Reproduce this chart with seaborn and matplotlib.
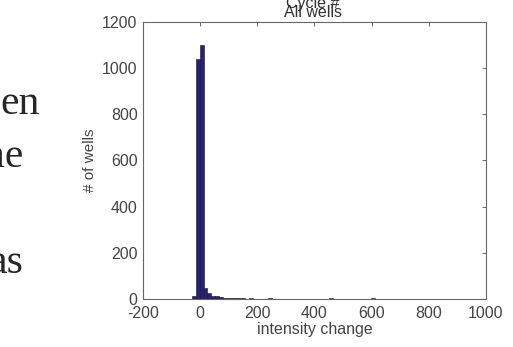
import numpy as np
import pandas as pd
import matplotlib
matplotlib.use("Agg")
import matplotlib.pyplot as plt
import seaborn as sns

# histogram of intensity change, 70 bins from about -28 to 903
bin_start = -28
bin_width = 13.3
counts = [15, 1040, 1100, 50, 25, 13, 12, 11, 5,
          4, 4, 3, 3, 3, 2, 3, 2, 2, 2,
          2, 3, 2, 1, 2, 2, 1, 2, 1, 1,
          2, 1, 1, 2, 1, 1, 1, 3, 1, 1,
          1, 0, 1, 1, 1, 1, 1, 1, 3, 1,
          1, 1, 2, 1, 1, 1, 1, 1, 2, 1,
          1, 1, 1, 0, 1, 1, 1, 1, 0, 1, 1]
edges = [bin_start + bin_width * i for i in range(len(counts) + 1)]
centers = [(edges[i] + edges[i + 1]) / 2 for i in range(len(counts))]
df = pd.DataFrame({"change": centers, "wells": counts})

xticks = [-200, 0, 200, 400, 600, 800, 1000]
yticks = [0, 200, 400, 600, 800, 1000, 1200]

sns.set_style("white")
plt.rcParams["font.family"] = ["Liberation Sans", "DejaVu Sans"]
plt.rcParams["axes.unicode_minus"] = False

fig = plt.figure(figsize=(5.13, 3.47), dpi=100)
ax = fig.add_axes([0.279, 0.138, 0.668, 0.799])

sns.histplot(data=df, x="change", weights="wells", bins=edges, ax=ax,
             color="#29207a", edgecolor="#111133", linewidth=0.4, alpha=1)

ax.set_xlim(-200, 1000)
ax.set_ylim(0, 1200)
ax.set_xticks(xticks)
ax.set_yticks(yticks)
ax.tick_params(direction="in", length=3, width=0.6, color="#555555",
               labelsize=11.5, labelcolor="#444444", top=True, right=True)
ax.tick_params(axis="x", pad=5)
ax.tick_params(axis="y", pad=4)
for s in ax.spines.values():
    s.set_color("#666666")
    s.set_linewidth(0.8)
ax.set_xlabel("intensity change", fontsize=11.5, color="#444444", labelpad=1)
ax.set_ylabel("# of wells", fontsize=11, color="#444444", labelpad=4)

# overlapping titles at top, partly cut off
fig.text(0.61, 0.951, "All wells", ha="center", va="baseline", fontsize=11.5,
         color="#333333")
fig.text(0.61, 0.978, "Cycle #", ha="center", va="baseline", fontsize=11.5,
         color="#333333")

# slide text cut at the left edge
serif = ["Liberation Serif", "DejaVu Serif"]
fig.text(0.078, 0.672, "en", ha="right", va="baseline", fontsize=30, family=serif)
fig.text(0.045, 0.519, "ne", ha="right", va="baseline", fontsize=30, family=serif)
fig.text(0.045, 0.213, "as", ha="right", va="baseline", fontsize=30, family=serif)

fig.savefig("out.png", dpi=100)
